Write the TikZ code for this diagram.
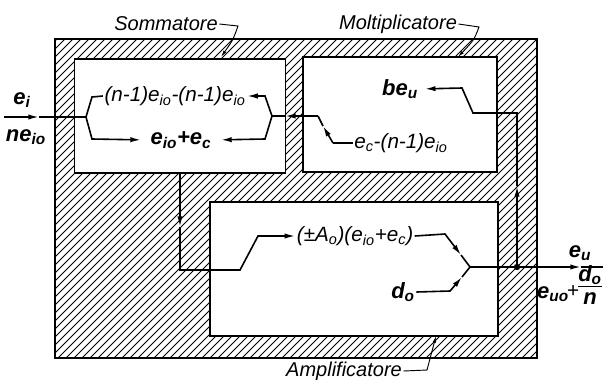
\documentclass[tikz,border=0pt]{standalone}
\usepackage{fontspec}
\setmainfont{Liberation Sans}
\usetikzlibrary{arrows.meta}
\tikzset{
  wire/.style={line width=1.2pt},
  tipend/.style={-{Latex[length=8pt,width=4pt]}},
  block/.style={draw,line width=1.2pt,fill=white,inner sep=0pt},
  lbl/.style={font=\fontsize{15.5}{17}\selectfont\itshape,inner sep=1pt},
  blbl/.style={font=\fontsize{16.5}{18}\selectfont\bfseries\itshape,inner sep=1pt},
  blockname/.style={font=\fontsize{15}{17}\selectfont\itshape,inner sep=1pt},
  hatch/.style={line width=0.65pt},
  leader/.style={line width=0.7pt,-{Latex[length=5pt,width=2.5pt]}}
}
\begin{document}
\begin{tikzpicture}[x=0.75pt,y=-0.75pt]
\useasboundingbox (0,0) rectangle (605,379);
% hatching
\begin{scope}
\clip (55,39) rectangle (537,358);
\foreach \i in {-280,-272,...,540} \draw[hatch] (\i,360) -- ++(330,-330);
\end{scope}
\node[block, fill=none, minimum width=361.5pt, minimum height=239.25pt] (outer) at (296,198.5) {};
\node[block, minimum width=158.25pt, minimum height=85.5pt] (som) at (180,116) {};
\node[block, minimum width=145.5pt, minimum height=86.25pt] (mol) at (400,114.5) {};
\node[block, minimum width=216pt, minimum height=100.5pt] (amp) at (354,269) {};
% block names
\node[blockname] (lsom) at (166,24) {Sommatore};
\node[blockname] (lmol) at (398,24) {Moltiplicatore};
\node[blockname] (lamp) at (344,371) {Amplificatore};
\draw[leader] (lsom.east) -- (238,26) .. controls (233,40) .. (221,57);
\draw[leader] (lmol.east) -- (479,27) .. controls (474,40) .. (458,57);
\draw[leader] (lamp.east) -- (427,370) -- (436,336);
% input
\node[blbl] (ei) at (22,100) {e\textsubscript{i}};
\node[blbl] (neio) at (26,137) {ne\textsubscript{io}};
\coordinate (in) at (4,117);
\coordinate (ia) at (39,117);
\coordinate (sj1) at (86,117);
\draw[wire, tipend] (in) -- (ia);
\draw[wire] (ia) -- (sj1);
% sommatore
\node[lbl] (t1) at (175,96) {(n-1)e\textsubscript{io}-(n-1)e\textsubscript{io}};
\node[blbl] (t1b) at (181,140) {e\textsubscript{io}+e\textsubscript{c}};
\draw[wire] (sj1) -- (92,97) -- (t1.west);
\draw[wire, tipend, shorten >=6pt] (sj1) -- (92,139) -- (t1b.west);
\coordinate (sj2) at (272,116);
\draw[wire, tipend] (sj2) -- (265,96) -- (t1.east);
\draw[wire, tipend, shorten >=6pt] (sj2) -- (265,139) -- (t1b.east);
% moltiplicatore
\coordinate (mj1) at (318,116);
\coordinate (mb) at (333,143);
\coordinate (ma) at (323,126);
\coordinate (sa) at (285,116);
\node[lbl] (t2) at (401,143) {e\textsubscript{c}-(n-1)e\textsubscript{io}};
\draw[wire] (t2.west) -- (mb);
\draw[wire, tipend] (mb) -- (ma);
\draw[wire] (ma) -- (mj1);
\draw[wire, tipend] (mj1) -- (sa);
\draw[wire] (sa) -- (sj2);
\node[blbl] (beu) at (400,89) {be\textsubscript{u}};
\coordinate (oj) at (517,267);
\coordinate (fa) at (517,186);
\draw[wire, tipend] (oj) -- (fa);
\draw[wire, tipend, shorten >=4pt] (fa) -- (517,113) -- (473,113) -- (462,88) -- (beu.east);
% amplificatore
\node[lbl] (t3) at (355,236) {(±A\textsubscript{o})(e\textsubscript{io}+e\textsubscript{c})};
\coordinate (da) at (180,227);
\draw[wire, tipend] (som.south) -- (da);
\draw[wire, tipend] (da) -- (180,270) -- (240,270) -- (258,236) -- (t3.west);
\node[blbl] (d0) at (403,292) {d\textsubscript{o}};
\coordinate (aj) at (470,267);
\coordinate (ta) at (461,255);
\coordinate (db) at (462,277);
\draw[wire, tipend] (t3.east) -- (445,234) -- (ta);
\draw[wire] (ta) -- (aj);
\draw[wire, tipend] (d0.east) -- (450,291) -- (db);
\draw[wire] (db) -- (aj);
\coordinate (oa) at (581,267);
\coordinate (out) at (603,267);
\draw[wire, tipend] (aj) -- (oa);
\draw[wire] (oa) -- (out);
\fill (oj) circle (2.4pt);
% output labels
\node[blbl] (eu) at (580,253) {e\textsubscript{u}};
\node[blbl] (euo) at (553,294) {e\textsubscript{uo}};
\node[lbl] (plus) at (573,292) {+};
\node[blbl, inner sep=0pt] (frac) at (590,288) {\setlength\arrayrulewidth{1pt}\begin{tabular}{@{}c@{}}d\textsubscript{o}\\[-2pt]\hline n\end{tabular}};
\end{tikzpicture}
\end{document}
